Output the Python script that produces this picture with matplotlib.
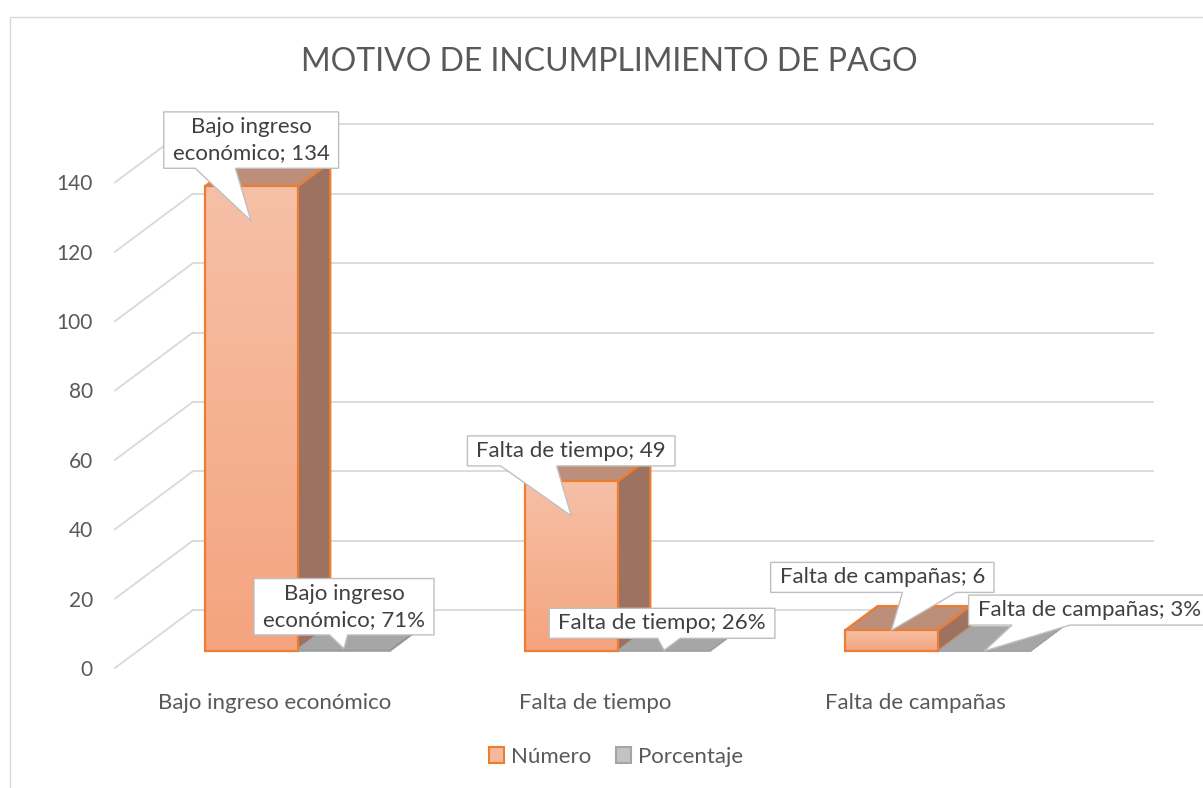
import numpy as np
import matplotlib as mpl
mpl.use("Agg")
import matplotlib.pyplot as plt
from matplotlib.patches import Polygon, Rectangle, Patch
from matplotlib.colors import LinearSegmentedColormap

# data
motivos = ["Bajo ingreso económico", "Falta de tiempo", "Falta de campañas"]
numero = [134, 49, 6]
porcentaje = [0.71, 0.26, 0.03]
etiquetas_num = ["Bajo ingreso\neconómico; 134", "Falta de tiempo; 49", "Falta de campañas; 6"]
etiquetas_pct = ["Bajo ingreso\neconómico; 71%", "Falta de tiempo; 26%", "Falta de campañas; 3%"]
yticks = [0, 20, 40, 60, 80, 100, 120, 140]

plt.rcParams['font.family'] = ['Lato', 'DejaVu Sans']
W, H = 1203, 788
fig = plt.figure(figsize=(W/100, H/100), dpi=100)
ax = fig.add_axes([115/W, 1-668/H, (1153-115)/W, (668-113)/H])

DX, DY = 0.243, 16.7      # depth of the 3d box (x in categories, y in values)
BW = 0.29                 # bar width
F0, F1 = 0.29, 0.71       # bar depth position (fraction of floor depth)
grid_c = '#d9d9d9'
txt_c = '#595959'

# back wall + side wall gridlines
for v in yticks:
    ax.plot([-0.5+DX, 2.5+DX], [v+DY, v+DY], color=grid_c, lw=1.3, zorder=1, clip_on=False)
    ax.plot([-0.5, -0.5+DX], [v, v+DY], color=grid_c, lw=1.3, zorder=1, clip_on=False)

grad_cmap = LinearSegmentedColormap.from_list('g', ['#f4a47e', '#f6c0a7'])
grad = np.linspace(0, 1, 256).reshape(-1, 1)

def box3d(x0, x1, v, front, side, top, edge, lw, gradient=False):
    ox0, oy0 = F0*DX, F0*DY
    ox1, oy1 = F1*DX, F1*DY
    fpts = [(x0+ox0, oy0), (x1+ox0, oy0), (x1+ox0, v+oy0), (x0+ox0, v+oy0)]
    spts = [(x1+ox0, oy0), (x1+ox1, oy1), (x1+ox1, v+oy1), (x1+ox0, v+oy0)]
    tpts = [(x0+ox0, v+oy0), (x1+ox0, v+oy0), (x1+ox1, v+oy1), (x0+ox1, v+oy1)]
    ax.add_patch(Polygon(spts, closed=True, fc=side, ec=edge, lw=lw, zorder=2, clip_on=False))
    ax.add_patch(Polygon(tpts, closed=True, fc=top, ec=edge, lw=lw, zorder=2, clip_on=False))
    fp = Polygon(fpts, closed=True, fc=front, ec='none', zorder=3, clip_on=False)
    ax.add_patch(fp)
    if gradient:
        im = ax.imshow(grad, extent=(x0+ox0, x1+ox0, oy0, v+oy0), origin='lower',
                       aspect='auto', cmap=grad_cmap, zorder=3)
        im.set_clip_path(fp)
    ax.add_patch(Polygon(fpts, closed=True, fill=False, ec=edge, lw=lw, zorder=4, clip_on=False))

for i in range(len(motivos)):
    box3d(i-BW, i, numero[i], '#f5b08e', '#9d7260', '#bd8e79', '#ed7d31', 1.6, gradient=True)
    box3d(i, i+BW, porcentaje[i], '#9c9c9c', '#8f8f8f', '#a6a6a6', '#a0a0a0', 0.6)

ax.set_xlim(-0.5, 2.5+DX)
ax.set_ylim(0, 160)
ax.set_yticks(yticks)
ax.set_yticklabels([str(v) for v in yticks], fontsize=15, color=txt_c)
ax.set_xticks(range(len(motivos)))
ax.set_xticklabels(motivos, fontsize=16, color=txt_c)
ax.tick_params(axis='y', length=0, pad=16)
ax.tick_params(axis='x', length=0, pad=18)
for s in ax.spines.values():
    s.set_visible(False)
ax.patch.set_alpha(0)

fig.text(609/W, 1-62/H, "MOTIVO DE INCUMPLIMIENTO DE PAGO", ha='center', va='center',
         fontsize=23, color=txt_c)

# callouts: tip on the bar, box offset in pixels, pointer base as fractions of the box width
def tip_y(v):
    return v - 10 if v > 20 else v

callouts = []
offs_num = [(0, 81), (0, 65), (-9, 53)]
base_num = [(0.18, 0.41), (0.16, 0.43), (0.59, 0.83)]
offs_pct = [(0, 42), (-2, 27), (105, 41)]
base_pct = [(0.42, 0.52), (0.48, 0.58), (0.18, 0.42)]
for i in range(len(motivos)):
    callouts.append(((i-BW/2+F0*DX, tip_y(numero[i])+F0*DY), etiquetas_num[i], offs_num[i], base_num[i]))
    callouts.append(((i+BW/2+F0*DX, tip_y(porcentaje[i])+F0*DY), etiquetas_pct[i], offs_pct[i], base_pct[i]))

texts = []
for tip, s, off, base in callouts:
    t = ax.annotate(s, xy=tip, xytext=off, textcoords='offset pixels', ha='center', va='center',
                    multialignment='center', fontsize=16, color='#404040', zorder=8,
                    linespacing=1.4, annotation_clip=False)
    texts.append((t, tip, base))

fig.canvas.draw()
r = fig.canvas.get_renderer()
inv = fig.transFigure.inverted()
for t, tip, base in texts:
    bb = t.get_window_extent(r)
    x0, x1 = bb.x0-9, bb.x1+9
    y0, y1 = bb.y0-5, bb.y1+5
    tx, ty = ax.transData.transform(tip)
    bx0 = x0 + base[0]*(x1-x0)
    bx1 = x0 + base[1]*(x1-x0)
    pts = [(x0, y1), (x1, y1), (x1, y0), (bx1, y0), (tx, ty), (bx0, y0), (x0, y0)]
    ax.add_patch(Polygon(inv.transform(pts), closed=True, transform=fig.transFigure,
                         fc='white', ec='#bfbfbf', lw=1, zorder=7, clip_on=False))

# legend
hs = [Patch(fc='#f6b89b', ec='#ed7d31', lw=1.5), Patch(fc='#c3c3c3', ec='#a5a5a5', lw=1.5)]
fig.legend(hs, ['Número', 'Porcentaje'], loc='center', bbox_to_anchor=(616/W, 1-757/H),
           ncol=2, frameon=False, fontsize=16, labelcolor=txt_c, handlelength=0.7,
           handleheight=0.7, handletextpad=0.3, columnspacing=1.1)

# chart border
fig.patches.append(Rectangle((10/W, -0.1), 1.2, 1.1-17/H, transform=fig.transFigure,
                             fill=False, ec='#d9d9d9', lw=1))

fig.savefig("out.png", dpi=100)
